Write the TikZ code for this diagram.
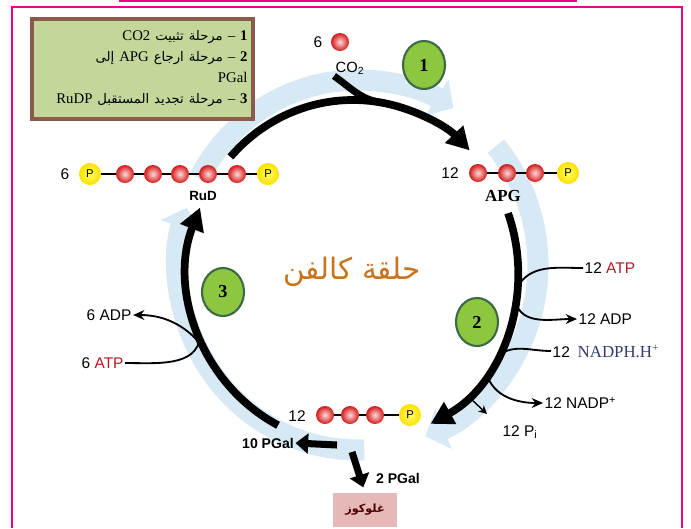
\documentclass[tikz,border=0pt]{standalone}
\usepackage{fontspec}
\setmainfont{Liberation Serif}
\setsansfont{Liberation Sans}
\newfontfamily\arabicfont[Script=Arabic]{DejaVu Sans}
\TeXXeTstate=1
\usetikzlibrary{arrows.meta,shapes.geometric}

\definecolor{bandblue}{RGB}{214,233,244}
\definecolor{leggreen}{RGB}{196,215,155}
\definecolor{legbrown}{RGB}{140,90,75}
\definecolor{stagegreen}{RGB}{141,198,63}
\definecolor{stagedark}{RGB}{60,105,70}
\definecolor{atpred}{RGB}{170,30,40}
\definecolor{nadblue}{RGB}{50,60,110}
\definecolor{calvin}{RGB}{200,115,30}
\definecolor{glucpink}{RGB}{230,185,184}

\newcommand{\legar}[1]{{\arabicfont\fontsize{9.4}{15}\selectfont #1}}

\tikzset{
  rball/.style={circle, minimum size=0.45cm, inner sep=0pt, shading=radial,
    inner color=red!15!white, outer color=red!80!black!90},
  pball/.style={circle, minimum size=0.55cm, inner sep=0pt, shading=radial,
    inner color=yellow!60!white, outer color=yellow!75!orange,
    font=\sffamily\fontsize{8}{8}\selectfont},
  stage/.style={ellipse, draw=stagedark, line width=1.5pt, fill=stagegreen,
    minimum width=1.05cm, minimum height=1.2cm, inner sep=0pt,
    font=\rmfamily\bfseries\fontsize{13}{13}\selectfont},
  cyclearrow/.style={line width=5.5pt, -{Triangle[length=16pt,width=17pt]}},
  band/.style={line width=15pt, bandblue, -{Triangle[length=14pt,width=30pt]}},
  branch/.style={line width=1.3pt},
  block/.style={line width=5pt, -{Triangle[length=9pt,width=14pt]}}
}

\begin{document}
\begin{tikzpicture}[x=0.025cm, y=0.025cm,
    every node/.style={font=\sffamily\fontsize{11}{12}\selectfont, inner sep=1pt}]
    \useasboundingbox (0,0) rectangle (691,-528);

    % Frame
    \draw[magenta, line width=1.2pt] (12,-528) -- (12,-7) -- (682,-7) -- (682,-528);
    \draw[magenta, line width=1.5pt] (119,-1) -- (577,-1);

    % Light blue band
    \coordinate (bc) at (358,-265);
    \draw[band] (bc) ++(152:180 and 185) arc[start angle=152, end angle=58, x radius=180, y radius=185];
    \draw[band] (bc) ++(40:180 and 185) arc[start angle=40, end angle=-68, x radius=180, y radius=185];
    \draw[band] (bc) ++(-88:180 and 185) arc[start angle=-88, end angle=-198, x radius=180, y radius=185];

    % Calvin cycle
    \coordinate (cen) at (353,-272);
    \path (cen) ++(138:165 and 172) coordinate (a1);
    \path (cen) ++(20:165 and 172) coordinate (a2);
    \path (cen) ++(-117:165 and 172) coordinate (a3);
    \draw[cyclearrow] (a1) arc[start angle=138, end angle=45, x radius=165, y radius=172];
    \draw[cyclearrow] (a2) arc[start angle=20, end angle=-62, x radius=165, y radius=172];
    \draw[cyclearrow] (a3) arc[start angle=-117, end angle=-202, x radius=165, y radius=172];
    \node[font=\arabicfont\fontsize{21}{21}\selectfont, text=calvin] (title) at (352,-272)
        {\beginR حلقة كالفن\endR};

    % CO2 input
    \node (co2n) at (318,-42) {6};
    \node[rball] (co2b) at (340,-42) {};
    \node[font=\sffamily\fontsize{10.5}{12}\selectfont] (co2) at (350,-68) {CO\textsubscript{2}};
    \path (cen) ++(80:165 and 172) coordinate (merge);
    \draw[line width=5pt] (co2.south west) to[out=-35, in=172] (merge);

    % RuD
    \node (rudn) at (65,-174) {6};
    \node[pball] (r0) at (90,-174) {P};
    \foreach \i/\x in {1/125,2/153,3/180,4/208,5/237}
        \node[rball] (r\i) at (\x,-174) {};
    \node[pball] (r6) at (268,-174) {P};
    \foreach \i [count=\j] in {0,...,5}
        \draw[line width=1pt] (r\i) -- (r\j);
    \node[font=\sffamily\bfseries\fontsize{9.5}{10}\selectfont] (rud) at (203,-196) {RuD};

    % APG
    \node (apgn) at (450,-173) {12};
    \foreach \i/\x in {1/478,2/507,3/535}
        \node[rball] (g\i) at (\x,-173) {};
    \node[pball] (g4) at (568,-173) {P};
    \foreach \i [count=\j from 2] in {1,2,3}
        \draw[line width=1pt] (g\i) -- (g\j);
    \node[font=\rmfamily\bfseries\fontsize{12}{12}\selectfont] (apg) at (503,-196) {APG};

    % PGal
    \node (pgaln) at (297,-416) {12};
    \foreach \i/\x in {1/325,2/350,3/375}
        \node[rball] (p\i) at (\x,-415) {};
    \node[pball] (p4) at (410,-415) {P};
    \foreach \i [count=\j from 2] in {1,2,3}
        \draw[line width=1pt] (p\i) -- (p\j);

    % Stage numbers
    \node[stage] (s1) at (424,-65) {1};
    \node[stage] (s2) at (477,-322) {2};
    \node[stage] (s3) at (223,-292) {3};

    % Stage 2 inputs and outputs
    \node[anchor=west] (atpR) at (583,-268) {12 \textcolor{atpred}{ATP}};
    \node[anchor=west] (adpR) at (577,-319) {12 ADP};
    \node[anchor=west] (nadR) at (551,-351)
        {12\enspace{\rmfamily\fontsize{12}{12}\selectfont\color{nadblue}NADPH.H\textsuperscript{+}}};
    \node[anchor=west] (nadpR) at (543,-403) {12 NADP\textsuperscript{+}};
    \node (piR) at (520,-432) {12 P\textsubscript{i}};
    \path (cen) ++(-5:165 and 172) coordinate (j1);
    \path (cen) ++(-10:165 and 172) coordinate (j2);
    \path (cen) ++(-30:165 and 172) coordinate (j3);
    \path (cen) ++(-36:165 and 172) coordinate (j4);
    \path (cen) ++(-46:165 and 172) coordinate (j5);
    \coordinate (piend) at (487,-414);
    \draw[branch] (atpR.west) to[out=180, in=60] (j1);
    \draw[branch, -{Stealth[length=8pt,width=7pt]}] (j2) to[out=-75, in=180] (adpR.west);
    \draw[branch] (nadR.west) to[out=180, in=45] (j3);
    \draw[branch, -{Stealth[length=8pt,width=7pt]}] (j4) to[out=-75, in=180] (nadpR.west);
    \draw[line width=1pt, -{Stealth[length=6pt,width=6pt]}] (j5) -- (piend);

    % Stage 3 inputs and outputs
    \node[anchor=west] (adpL) at (85,-315) {6 ADP};
    \node[anchor=west] (atpL) at (80,-363) {6 \textcolor{atpred}{ATP}};
    \path (cen) ++(-158:165 and 172) coordinate (j6);
    \path (cen) ++(-152:165 and 172) coordinate (j7);
    \draw[branch] (atpL.east) to[out=0, in=-95] (j6);
    \draw[branch, -{Stealth[length=8pt,width=7pt]}] (j7) to[out=125, in=0] (adpL.east);

    % Products
    \node[font=\sffamily\bfseries\fontsize{10}{10}\selectfont] (pgal10) at (268,-443) {10 PGal};
    \node[font=\sffamily\bfseries\fontsize{10}{10}\selectfont] (pgal2) at (398,-478) {2 PGal};
    \node[fill=glucpink, minimum width=1.6cm, minimum height=0.85cm,
        font=\arabicfont\bfseries\fontsize{8}{8}\selectfont, text=black!70!red] (gluc) at (365,-510)
        {\beginR غلوكوز\endR};
    \coordinate (fork1) at (337,-445);
    \coordinate (fork2) at (352,-452);
    \draw[block] (fork1) -- (pgal10.east);
    \draw[block, shorten >=4pt] (fork2) -- (gluc.north);

    % Legend
    \node[draw=legbrown, line width=2.5pt, fill=leggreen, anchor=north west,
        text width=5.25cm, minimum height=2.5cm, align=right, inner xsep=4pt, inner ysep=5pt,
        font=\rmfamily\fontsize{10.5}{15}\selectfont] (leg) at (30,-17)
        {\beginR{\bfseries 1} – \legar{مرحلة تثبيت} CO2\endR\\
         \beginR{\bfseries 2} – \legar{مرحلة ارجاع} APG \legar{إلى}\endR\\
         PGal\\
         \beginR{\bfseries 3} – \legar{مرحلة تجديد المستقبل} RuDP\endR};
\end{tikzpicture}
\end{document}
